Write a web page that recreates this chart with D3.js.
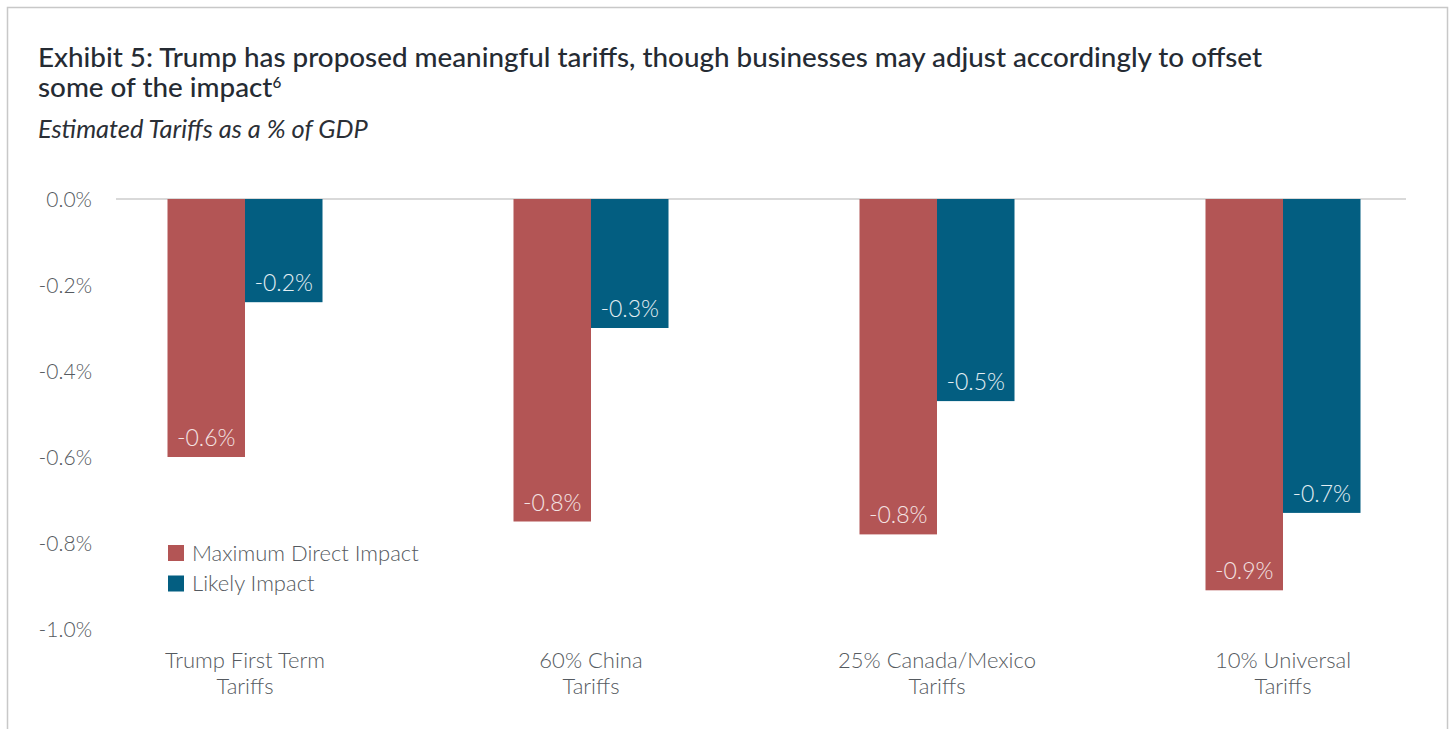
<!DOCTYPE html>
<html>
<head>
<meta charset="utf-8">
<script src="https://cdn.jsdelivr.net/npm/d3@7"></script>
<style>
  html, body { margin: 0; padding: 0; background: #fff; }
  svg { display: block; font-family: Lato, "Open Sans", sans-serif; }
</style>
</head>
<body>
<svg id="chart" width="1453" height="729"></svg>
<script>
// ---- Data ----
const categories = [["Trump First Term", "Tariffs"], ["60% China", "Tariffs"], ["25% Canada/Mexico", "Tariffs"], ["10% Universal", "Tariffs"]];
const seriesNames = ["Maximum Direct Impact", "Likely Impact"];
const maxDirect = [-0.60, -0.75, -0.78, -0.91];
const likely = [-0.24, -0.30, -0.47, -0.73];
const yTicks = [0, -0.2, -0.4, -0.6, -0.8, -1.0];
const colors = ["#b35555", "#035e81"];
const titleLines = ["Exhibit 5: Trump has proposed meaningful tariffs, though businesses may adjust accordingly to offset", "some of the impact"];
const subtitle = "Estimated Tariffs as a % of GDP";

const fmt = d3.formatLocale({decimal: ".", thousands: ",", grouping: [3], currency: ["", ""], minus: "-"}).format(".1f");
const pct = d => fmt(d) + "%";

const svg = d3.select("#chart");

// frame
svg.append("rect").attr("x", 7.5).attr("y", 7.5).attr("width", 1440).attr("height", 740)
  .attr("fill", "none").attr("stroke", "#c8c8c8").attr("stroke-width", 1.5);

// titles
const t = svg.append("text").attr("x", 38).attr("y", 67).attr("font-size", 24).attr("font-weight", 500).attr("fill", "#252b33").text(titleLines[0]);
const t2 = svg.append("text").attr("x", 38).attr("y", 97).attr("font-size", 24).attr("font-weight", 500).attr("fill", "#252b33");
t2.append("tspan").text(titleLines[1]);
const sup = t2.append("tspan").attr("font-size", 14).attr("dy", -9).text("6");
const tw = t.node().getComputedTextLength();
const target = 1263 - 38;
if (Math.abs(tw - target) > 4) {
  const fs = 24 * target / tw;
  t.attr("font-size", fs); t2.attr("font-size", fs);
  t2.select("tspan").attr("font-size", fs);
  sup.attr("font-size", fs * 0.55);
}
const st = svg.append("text").attr("x", 38).attr("y", 138).attr("font-size", 24).attr("font-style", "italic")
  .attr("fill", "#2b2f36").text(subtitle);
const sw = st.node().getComputedTextLength();
st.attr("font-size", 24 * 330 / sw);

// scales
const y = d3.scaleLinear().domain([-1.0, 0]).range([629, 199]);
const x0 = d3.scaleBand().domain(d3.range(categories.length)).range([72, 1456]).paddingInner(0.552).paddingOuter(0.276);
const x1 = d3.scaleBand().domain(d3.range(seriesNames.length)).range([0, x0.bandwidth()]);

// zero gridline
svg.append("line").attr("x1", 116).attr("x2", 1406).attr("y1", y(0)).attr("y2", y(0))
  .attr("stroke", "#d9d9d9").attr("stroke-width", 2);

// y axis
const yAxis = d3.axisLeft(y).tickValues(yTicks).tickSize(0).tickPadding(0).tickFormat(pct);
const ya = svg.append("g").attr("transform", "translate(92,0)").call(yAxis);
ya.select(".domain").remove();
ya.selectAll("text").attr("font-size", 21).attr("font-weight", 300).attr("fill", "#555a60")
  .attr("font-family", "Lato, sans-serif").attr("dy", "0.35em");

// bars
const data = categories.map((c, i) => [maxDirect[i], likely[i]]);
const groups = svg.append("g").selectAll("g").data(data).join("g")
  .attr("transform", (d, i) => `translate(${x0(i)},0)`);
groups.selectAll("rect").data(d => d).join("rect")
  .attr("x", (d, j) => x1(j)).attr("width", x1.bandwidth())
  .attr("y", y(0)).attr("height", d => y(d) - y(0))
  .attr("fill", (d, j) => colors[j]);
groups.selectAll("text").data(d => d).join("text")
  .attr("x", (d, j) => x1(j) + x1.bandwidth() / 2)
  .attr("y", d => y(d) - 11)
  .attr("text-anchor", "middle").attr("font-size", 23).attr("font-weight", 300)
  .attr("fill", (d, j) => j === 0 ? "#f4e3e3" : "#e3eef3")
  .text(pct);

// x axis category labels
const xa = svg.append("g");
categories.forEach((c, i) => {
  const cx = x0(i) + x0.bandwidth() / 2;
  const tx = xa.append("text").attr("x", cx).attr("y", 668)
    .attr("text-anchor", "middle").attr("font-size", 22).attr("font-weight", 300).attr("fill", "#555a60");
  c.forEach((line, k) => tx.append("tspan").attr("x", cx).attr("dy", k === 0 ? 0 : 26).text(line));
});

// legend
const lg = svg.append("g").attr("transform", "translate(168,545)");
seriesNames.forEach((n, i) => {
  lg.append("rect").attr("x", 0).attr("y", i * 30.5).attr("width", 16).attr("height", 16).attr("fill", colors[i]);
  lg.append("text").attr("x", 24).attr("y", i * 30.5 + 8).attr("dy", "0.35em")
    .attr("font-size", 22).attr("font-weight", 300).attr("fill", "#555a60").text(n);
});
</script>
</body>
</html>
